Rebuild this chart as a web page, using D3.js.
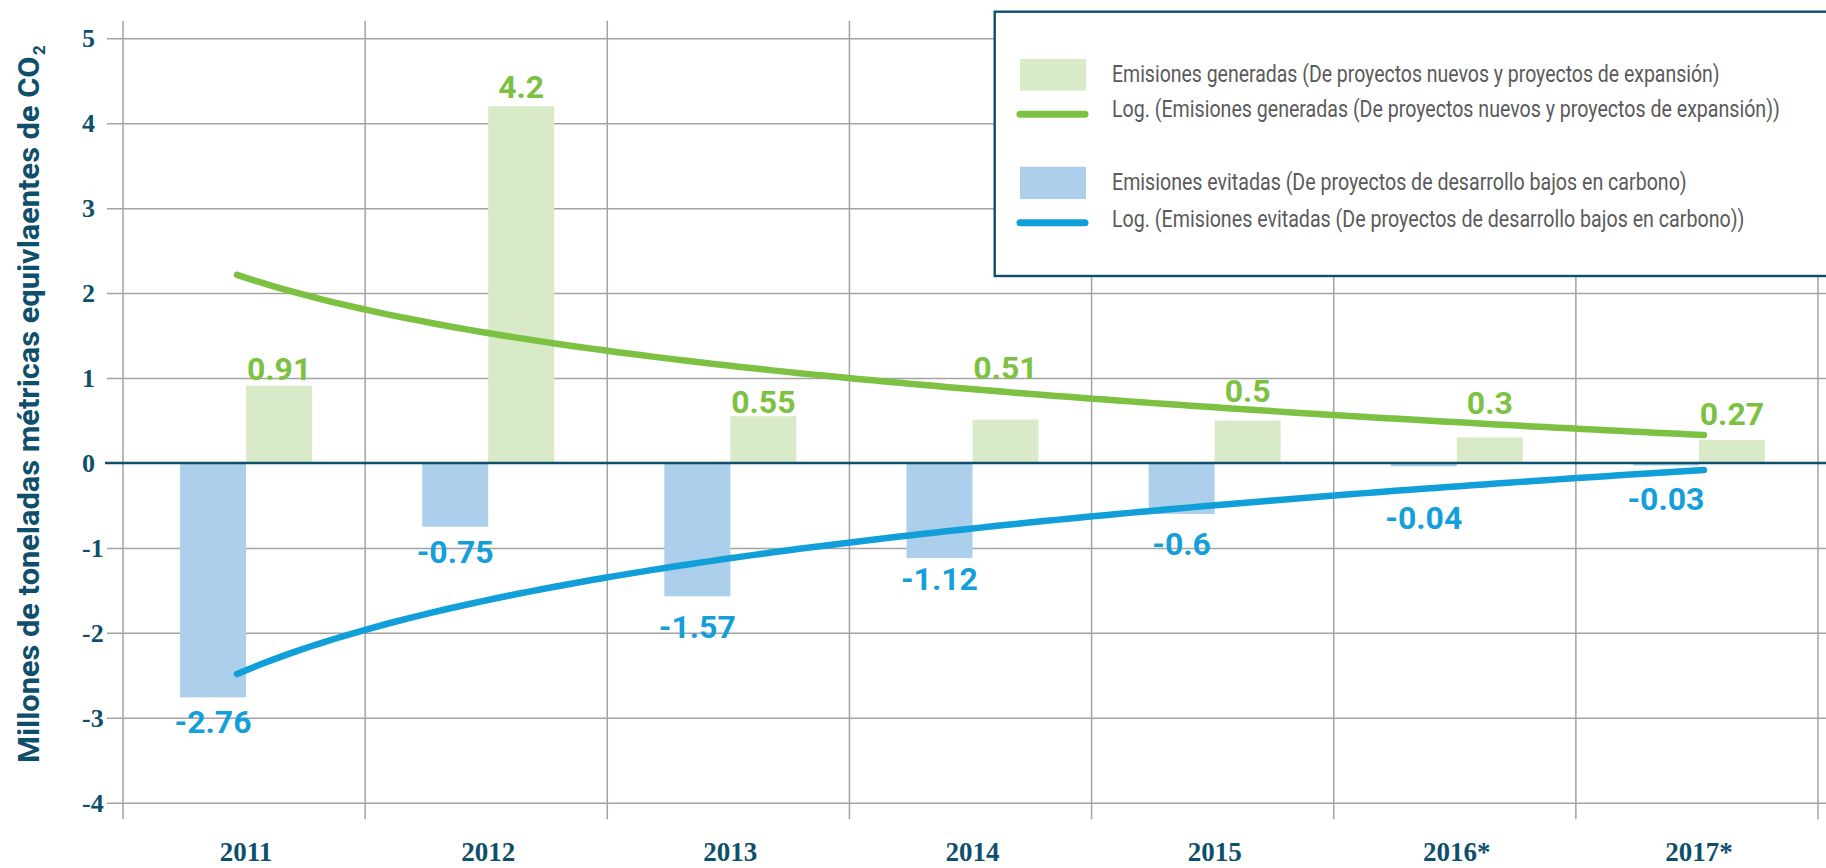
<!DOCTYPE html>
<html lang="es">
<head>
<meta charset="utf-8">
<title>Emisiones generadas y evitadas 2011–2017</title>
<script src="https://cdn.jsdelivr.net/npm/d3@7"></script>
<style>
  html, body { margin: 0; padding: 0; background: #fff; }
  svg { display: block; }
</style>
</head>
<body>
<svg id="chart" width="1826" height="868"></svg>
<script>
// ---- Data ----
const years = ['2011', '2012', '2013', '2014', '2015', '2016*', '2017*'];
const generadas = [0.91, 4.2, 0.55, 0.51, 0.5, 0.3, 0.27];
const evitadas = [-2.76, -0.75, -1.57, -1.12, -0.6, -0.04, -0.03];
const yTicks = [5, 4, 3, 2, 1, 0, -1, -2, -3, -4];
const legendLabels = [
  'Emisiones generadas (De proyectos nuevos y proyectos de expansión)',
  'Log. (Emisiones generadas (De proyectos nuevos y proyectos de expansión))',
  'Emisiones evitadas (De proyectos de desarrollo bajos en carbono)',
  'Log. (Emisiones evitadas (De proyectos de desarrollo bajos en carbono))'
];
const yTitle = 'Millones de toneladas métricas equivlaentes de CO';

// ---- Styling ----
const C = {
  teal: '#0e4f6c',
  grid: '#a3a3a3',
  genFill: '#d9eac8',
  evFill: '#accfec',
  genLine: '#7cc142',
  evLine: '#119fd9',
  genText: '#7cc142',
  evText: '#149fda',
  legendText: '#5a5a5a'
};

const W = 1826, H = 868;
const svg = d3.select('#chart');
svg.append('rect').attr('width', W).attr('height', H).attr('fill', '#fff');

// squeeze a text horizontally so that it spans `width` px from (x, y), optionally rotated
function fitText(sel, x, y, width, rotate = 0) {
  const natural = sel.node().getComputedTextLength();
  sel.attr('x', 0).attr('y', 0)
    .attr('transform', `translate(${x},${y}) rotate(${rotate}) scale(${width / natural},1)`);
}

// ---- Scales ----
const x0 = d3.scaleBand().domain(years).range([123, 1818]).paddingInner(0).paddingOuter(0);
const bw = x0.bandwidth();
const x1 = d3.scaleBand().domain(['evitadas', 'generadas']).range([bw / 2 - 64, bw / 2 + 68]).padding(0);
const y = d3.scaleLinear().domain([-4, 5]).range([802.7, 38.3]);

const plotTop = 20.7, plotBottom = 819.3;

// ---- Gridlines ----
const gGrid = svg.append('g');
const boundaries = years.map(d => x0(d)).concat([x0.range()[1]]);
gGrid.selectAll('line.v').data(boundaries).join('line')
  .attr('x1', d => d).attr('x2', d => d)
  .attr('y1', plotTop).attr('y2', plotBottom)
  .attr('stroke', C.grid).attr('stroke-width', 1.5);

// y axis: gridlines + left-aligned tick labels
const yAxis = d3.axisLeft(y).tickValues(yTicks).tickSizeOuter(0)
  .tickSizeInner(-(W - 123)).tickFormat(d => String(d));
const gY = svg.append('g').attr('transform', 'translate(123,0)').call(yAxis);
gY.select('.domain').remove();
gY.selectAll('.tick line')
  .attr('x1', -16)
  .attr('stroke', d => d === 0 ? 'none' : C.grid)
  .attr('stroke-width', 1.5);
gY.selectAll('.tick text')
  .attr('x', -41).attr('dy', '0.33em')
  .attr('text-anchor', 'start')
  .attr('fill', C.teal)
  .style('font-family', '"Liberation Serif", "DejaVu Serif", serif')
  .style('font-weight', 700)
  .style('font-size', '26px');

// x axis labels
const xAxis = d3.axisBottom(x0).tickSize(0).tickPadding(0);
const gX = svg.append('g').attr('transform', 'translate(2,861)').call(xAxis);
gX.select('.domain').remove();
gX.selectAll('.tick text')
  .attr('y', 0).attr('dy', 0)
  .attr('fill', C.teal)
  .style('font-family', '"Liberation Serif", "DejaVu Serif", serif')
  .style('font-weight', 700)
  .style('font-size', '27px');

// ---- Bars ----
const rows = years.map((yr, i) => ({ year: yr, evitadas: evitadas[i], generadas: generadas[i] }));
const gBars = svg.append('g');
const groups = gBars.selectAll('g').data(rows).join('g')
  .attr('transform', d => `translate(${x0(d.year)},0)`);
groups.append('rect')
  .attr('x', x1('evitadas')).attr('width', x1.bandwidth())
  .attr('y', y(0)).attr('height', d => y(d.evitadas) - y(0))
  .attr('fill', C.evFill);
groups.append('rect')
  .attr('x', x1('generadas')).attr('width', x1.bandwidth())
  .attr('y', d => y(d.generadas)).attr('height', d => y(0) - y(d.generadas))
  .attr('fill', C.genFill);

// zero line
svg.append('line')
  .attr('x1', 105).attr('x2', W)
  .attr('y1', y(0)).attr('y2', y(0))
  .attr('stroke', C.teal).attr('stroke-width', 2.6);

// ---- Logarithmic trendlines (least squares on ln(x), x = 1..n) ----
function logFit(vals) {
  const xs = vals.map((_, i) => Math.log(i + 1));
  const mx = d3.mean(xs), my = d3.mean(vals);
  const a = d3.sum(xs, (xv, i) => (xv - mx) * (vals[i] - my)) / d3.sum(xs, xv => (xv - mx) ** 2);
  const b = my - a * mx;
  return t => a * Math.log(t) + b;
}
const n = years.length;
const xt = d3.scaleLinear().domain([1, n])
  .range([x0(years[0]) + bw / 2 - 7, x0(years[n - 1]) + bw / 2 + 7]);
const ts = d3.range(1, n + 0.0001, 0.05);
const line = f => d3.line().x(t => xt(t)).y(t => y(f(t))).curve(d3.curveLinear)(ts);
const fGen = logFit(generadas), fEv = logFit(evitadas);
svg.append('path').attr('d', line(fGen)).attr('fill', 'none')
  .attr('stroke', C.genLine).attr('stroke-width', 6.5).attr('stroke-linecap', 'round');
svg.append('path').attr('d', line(fEv)).attr('fill', 'none')
  .attr('stroke', C.evLine).attr('stroke-width', 6.5).attr('stroke-linecap', 'round');

// ---- Value labels ----
// distance in px from the bar end to the label centre
const genGap = [17, 20, 15, 52, 30, 35, 26];
const evGap = [24, 25, 30, 21, 30, 51, 33];
const labelFont = 'Roboto, "Noto Sans", sans-serif';
groups.append('text')
  .attr('x', x1('generadas') + x1.bandwidth() / 2)
  .attr('y', (d, i) => y(d.generadas) - genGap[i])
  .attr('dy', '0.355em')
  .attr('text-anchor', 'middle')
  .attr('fill', C.genText)
  .style('font-family', labelFont).style('font-weight', 700).style('font-size', '32px')
  .text(d => String(d.generadas));
groups.append('text')
  .attr('x', x1('evitadas') + x1.bandwidth() / 2)
  .attr('y', (d, i) => y(d.evitadas) + evGap[i])
  .attr('dy', '0.355em')
  .attr('text-anchor', 'middle')
  .attr('fill', C.evText)
  .style('font-family', labelFont).style('font-weight', 700).style('font-size', '32px')
  .text(d => String(d.evitadas));

// ---- Y axis title ----
const title = svg.append('text')
  .attr('fill', C.teal)
  .style('font-family', 'Roboto, "Noto Sans", sans-serif')
  .style('font-weight', 700).style('font-size', '30px')
  .text(yTitle);
fitText(title, 38.5, 763, 707, -90);
svg.append('text')
  .attr('transform', 'translate(45,55) rotate(-90)')
  .attr('fill', C.teal)
  .style('font-family', 'Roboto, "Noto Sans", sans-serif')
  .style('font-weight', 700).style('font-size', '17px')
  .text('2');

// ---- Legend ----
const gL = svg.append('g');
gL.append('rect')
  .attr('x', 994.7).attr('y', 11.7).attr('width', 900).attr('height', 264.3)
  .attr('fill', '#fff').attr('stroke', C.teal).attr('stroke-width', 2.4);
const legendItems = [
  { type: 'rect', color: C.genFill, y: 59, h: 31.7, label: legendLabels[0], base: 81.7, len: 608 },
  { type: 'line', color: C.genLine, y: 114.3, label: legendLabels[1], base: 117.3, len: 668 },
  { type: 'rect', color: C.evFill, y: 166.7, h: 32.3, label: legendLabels[2], base: 190, len: 575 },
  { type: 'line', color: C.evLine, y: 222.7, label: legendLabels[3], base: 226.7, len: 633 }
];
legendItems.forEach(it => {
  if (it.type === 'rect') {
    gL.append('rect').attr('x', 1020).attr('y', it.y).attr('width', 66).attr('height', it.h)
      .attr('fill', it.color);
  } else {
    gL.append('line').attr('x1', 1020).attr('x2', 1085).attr('y1', it.y).attr('y2', it.y)
      .attr('stroke', it.color).attr('stroke-width', 7).attr('stroke-linecap', 'round');
  }
  const t = gL.append('text')
    .attr('fill', C.legendText)
    .style('font-family', 'Roboto, "Noto Sans", sans-serif')
    .style('font-size', '23px')
    .text(it.label);
  fitText(t, 1112, it.base, it.len);
});
</script>
</body>
</html>
